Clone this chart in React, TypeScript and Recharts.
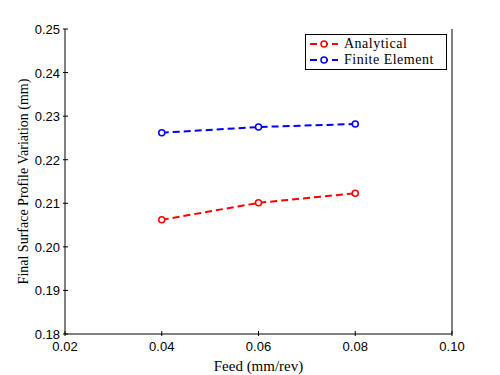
import { LineChart, Line, XAxis, YAxis } from "recharts";

const feed = [0.04, 0.06, 0.08];
const analytical = [0.2062, 0.2101, 0.2123];
const finiteElement = [0.2262, 0.2275, 0.2282];
const xTicks = [0.02, 0.04, 0.06, 0.08, 0.1];
const yTicks = [0.18, 0.19, 0.2, 0.21, 0.22, 0.23, 0.24, 0.25];

const rows = feed.map((f, i) => ({ feed: f, analytical: analytical[i], fe: finiteElement[i] }));

const serif = "'Liberation Serif', 'Times New Roman', serif";
const sans = "'Liberation Sans', Arial, sans-serif";
const TICK = 5;

function BottomTick(props: any) {
  const { x, y, payload } = props;
  return (
    <g>
      <line x1={x} x2={x} y1={y} y2={y - TICK} stroke="#000" />
      <text x={x} y={y + 15} textAnchor="middle" fontFamily={sans} fontSize={13} fill="#000">
        {payload.value.toFixed(2)}
      </text>
    </g>
  );
}
function TopTick(props: any) {
  const { x, y } = props;
  return <line x1={x} x2={x} y1={y} y2={y + TICK} stroke="#000" />;
}
function LeftTick(props: any) {
  const { x, y, payload } = props;
  return (
    <g>
      <line x1={x} x2={x + TICK} y1={y} y2={y} stroke="#000" />
      <text x={x - 3} y={y + 5} textAnchor="end" fontFamily={sans} fontSize={13} fill="#000">
        {payload.value.toFixed(2)}
      </text>
    </g>
  );
}
function RightTick(props: any) {
  const { x, y } = props;
  return <line x1={x} x2={x - TICK} y1={y} y2={y} stroke="#000" />;
}

const legendItems = [
  { label: "Analytical", color: "#ff0000" },
  { label: "Finite Element", color: "#0000ff" },
];

function LegendBox() {
  return (
    <div
      style={{
        position: "absolute",
        left: 305,
        top: 34,
        border: "1px solid #000",
        background: "#fff",
        width: 142,
        height: 36,
        boxSizing: "border-box",
        padding: "1px 0 0 2px",
        fontFamily: serif,
        fontSize: 14,
        lineHeight: "16px",
      }}
    >
      {legendItems.map((it) => (
        <div key={it.label} style={{ display: "flex", alignItems: "center", whiteSpace: "nowrap" }}>
          <svg width={36} height={16}>
            <line x1={2} x2={30} y1={8} y2={8} stroke={it.color} strokeWidth={2} strokeDasharray="7 4" />
            <circle cx={16} cy={8} r={3} fill="#fff" stroke={it.color} strokeWidth={1.5} />
          </svg>
          <span style={{ letterSpacing: 0.5 }}>{it.label}</span>
        </div>
      ))}
    </div>
  );
}

export default function App() {
  return (
    <div style={{ position: "absolute", left: 0, top: 0, width: 500, height: 375, background: "#fff" }}>
      <LineChart width={500} height={375} data={rows} margin={{ top: 29, right: 0, bottom: 0, left: 15 }}>
        <XAxis
          xAxisId="b"
          dataKey="feed"
          type="number"
          domain={[0.02, 0.1]}
          ticks={xTicks}
          tickSize={0}
          tickLine={false}
          tick={<BottomTick />}
          axisLine={{ stroke: "#000" }}
          height={41}
          label={{ value: "Feed (mm/rev)", position: "insideBottom", offset: 4, fontFamily: serif, fontSize: 15, fill: "#000" }}
        />
        <XAxis
          xAxisId="t"
          orientation="top"
          dataKey="feed"
          type="number"
          domain={[0.02, 0.1]}
          ticks={xTicks}
          tickSize={0}
          tickLine={false}
          tick={<TopTick />}
          axisLine={{ stroke: "#000" }}
          height={0}
        />
        <YAxis
          yAxisId="l"
          type="number"
          domain={[0.18, 0.25]}
          ticks={yTicks}
          tickSize={0}
          tickLine={false}
          tick={<LeftTick />}
          axisLine={{ stroke: "#000" }}
          width={50}
          label={{
            value: "Final Surface Profile Variation (mm)",
            angle: -90,
            position: "insideLeft",
            offset: 0,
            dx: 8,
            style: { textAnchor: "middle" },
            fontFamily: serif,
            fontSize: 14,
            fill: "#000",
          }}
        />
        <YAxis
          yAxisId="r"
          orientation="right"
          type="number"
          domain={[0.18, 0.25]}
          ticks={yTicks}
          tickSize={0}
          tickLine={false}
          tick={<RightTick />}
          axisLine={{ stroke: "#000" }}
          width={48}
        />
        <Line
          xAxisId="b"
          yAxisId="l"
          dataKey="analytical"
          stroke="#ff0000"
          strokeWidth={2}
          strokeDasharray="7 4"
          dot={{ r: 3, fill: "#fff", stroke: "#ff0000", strokeWidth: 1.5, strokeDasharray: "" }}
          isAnimationActive={false}
        />
        <Line
          xAxisId="b"
          yAxisId="l"
          dataKey="fe"
          stroke="#0000ff"
          strokeWidth={2}
          strokeDasharray="7 4"
          dot={{ r: 3, fill: "#fff", stroke: "#0000ff", strokeWidth: 1.5, strokeDasharray: "" }}
          isAnimationActive={false}
        />
      </LineChart>
      <LegendBox />
    </div>
  );
}
